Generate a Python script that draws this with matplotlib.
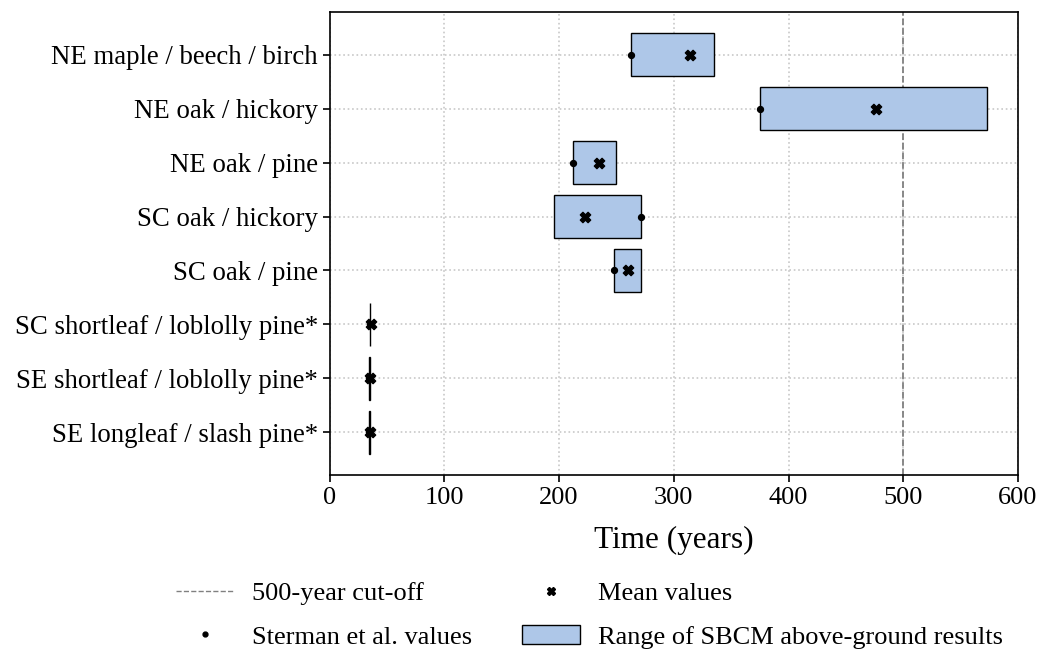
import matplotlib.pyplot as plt
from matplotlib.patches import Patch
from matplotlib.lines import Line2D

plt.rcParams['font.family'] = ['Liberation Serif', 'DejaVu Serif']

# forest types, top to bottom
labels = ['NE maple / beech / birch', 'NE oak / hickory', 'NE oak / pine',
          'SC oak / hickory', 'SC oak / pine', 'SC shortleaf / loblolly pine*',
          'SE shortleaf / loblolly pine*', 'SE longleaf / slash pine*']
range_lo = [263, 375, 212, 196, 248, 35, 34, 34]
range_hi = [335, 573, 250, 271, 271, 35, 35, 35]
means = [314, 476, 235, 223, 260, 36, 35, 35]
sterman = [263, 375, 212, 271, 248, 35, 34, 34]

fig, ax = plt.subplots(figsize=(10.43, 6.51), dpi=100)
y = list(range(len(labels)))[::-1]

ax.set_axisbelow(True)
ax.grid(True, linestyle=':', color='#c8c8c8', linewidth=1.2)
widths = [h - l for l, h in zip(range_lo, range_hi)]
ax.barh(y, widths, left=range_lo, height=0.8, color='#aec7e8',
        edgecolor='black', linewidth=1.0, zorder=2)
ax.axvline(500, color='grey', linestyle='--', linewidth=1.3, zorder=1)
ax.scatter(sterman, y, color='black', s=18, zorder=3)
ax.scatter(means, y, color='black', marker='X', s=55, zorder=4)

ax.set_yticks(y)
ax.set_yticklabels(labels, fontsize=19.3)
ax.set_xlim(0, 600)
ax.set_ylim(-0.8, 7.8)
ax.tick_params(axis='x', labelsize=19)
ax.tick_params(length=5, width=1.2)
ax.set_xlabel('Time (years)', fontsize=22.5, labelpad=12)
for s in ax.spines.values():
    s.set_linewidth(1.2)

handles = [Line2D([0], [0], color='grey', linestyle='--', linewidth=1),
           Line2D([0], [0], marker='o', color='black', linestyle='none', markersize=3.5),
           Line2D([0], [0], marker='X', color='black', linestyle='none', markersize=6),
           Patch(facecolor='#aec7e8', edgecolor='black')]
names = ['500-year cut-off', 'Sterman et al. values', 'Mean values',
         'Range of SBCM above-ground results']
fig.legend(handles, names, loc='lower center', ncol=2, frameon=False,
           fontsize=19, bbox_to_anchor=(0.565, -0.033), columnspacing=1.9,
           handlelength=2.2, handletextpad=0.68, labelspacing=0.75)

plt.subplots_adjust(left=0.316, right=0.976, top=0.982, bottom=0.27)
plt.savefig('out.png')
